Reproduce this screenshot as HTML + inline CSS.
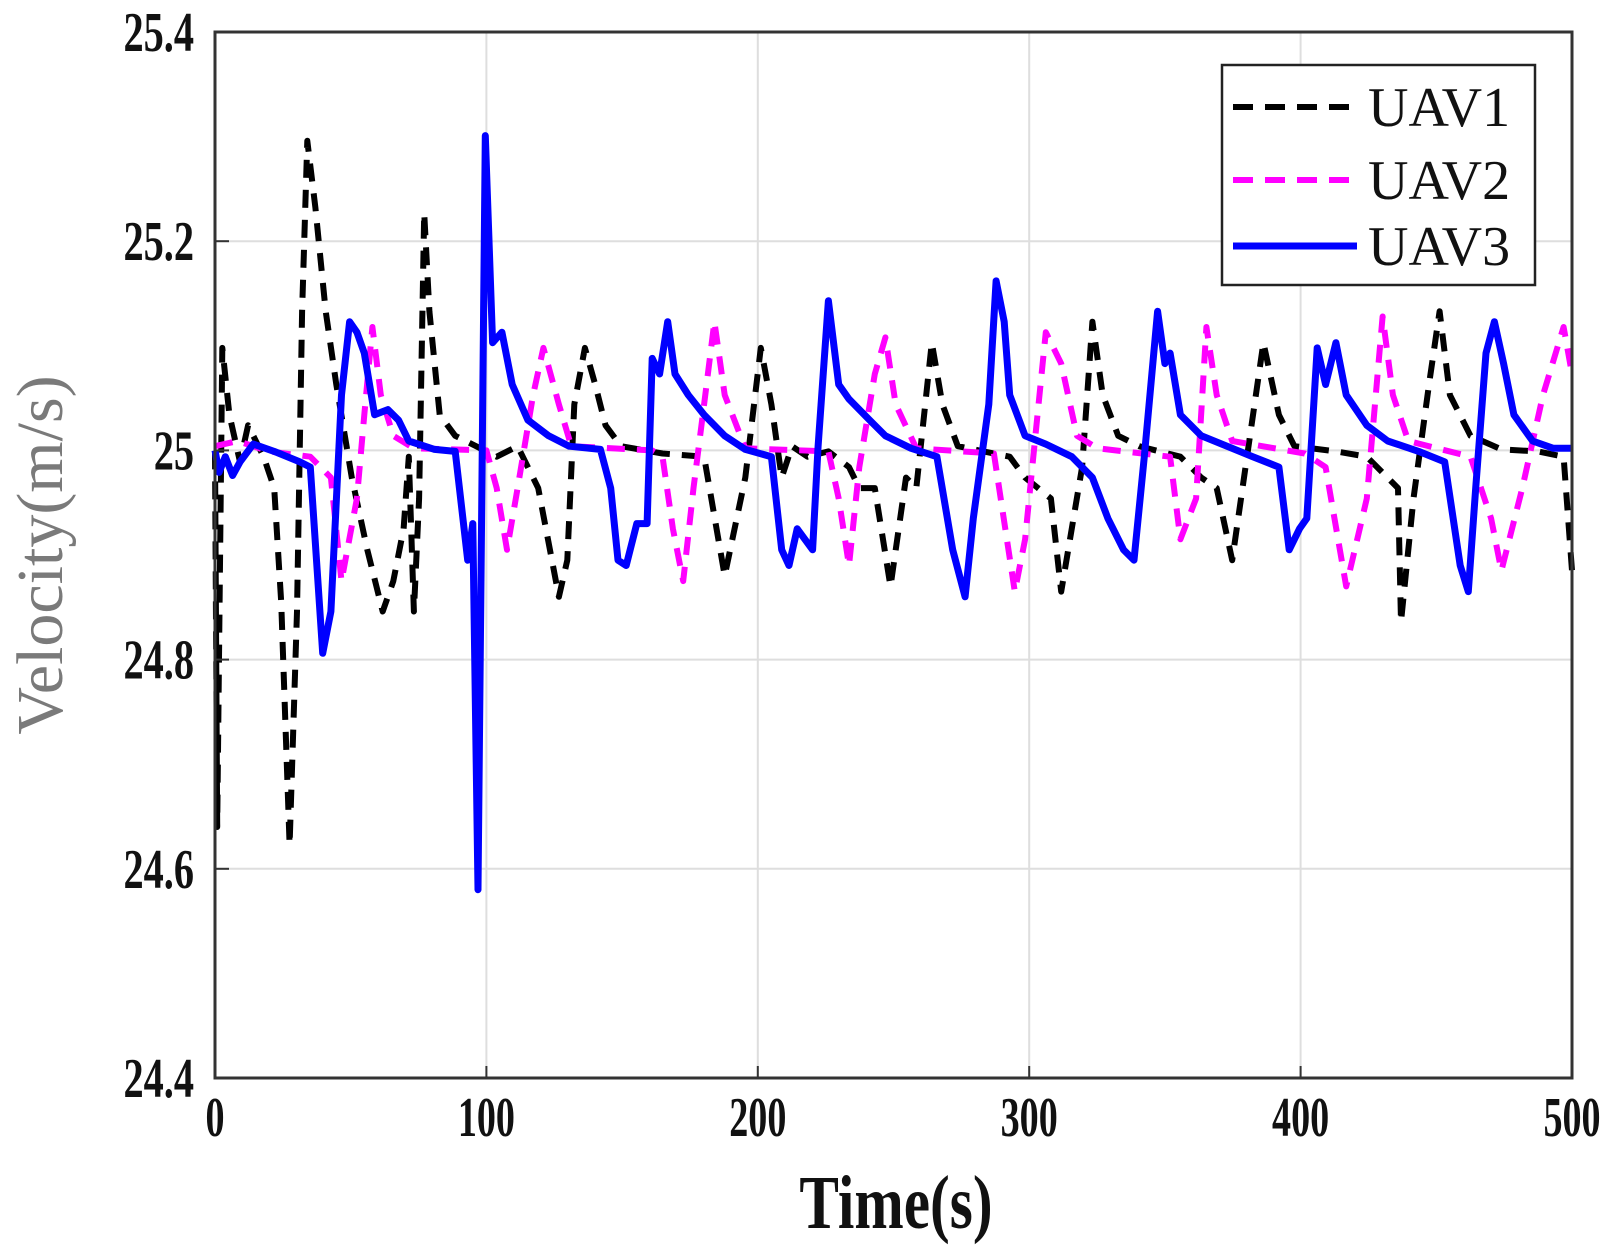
<!DOCTYPE html>
<html><head><meta charset="utf-8"><style>
html,body{margin:0;padding:0;background:#fff;}
svg{display:block;}
</style></head><body>
<svg id="chart" width="1624" height="1253" xmlns="http://www.w3.org/2000/svg">
<g id="grid"></g>
<g id="series"></g>
<rect x="215" y="32" width="1357" height="1046" fill="none" stroke="#333" stroke-width="3"/>
<g id="ticks"></g>
<text transform="translate(62,555) rotate(-90)" text-anchor="middle" font-family="Liberation Serif, serif" font-size="66" fill="#7a7a7a">Velocity(m/s)</text>
<text transform="translate(896,1228) scale(0.78,1)" text-anchor="middle" font-family="Liberation Serif, serif" font-weight="bold" font-size="76" fill="#111">Time(s)</text>
<g>
<rect x="1222" y="65" width="313" height="220" fill="#fff" stroke="#222" stroke-width="2.5"/>
<g><line x1="1233" y1="107" x2="1357" y2="107" stroke="#000" stroke-width="6" stroke-dasharray="20,12"/><text x="1368" y="126" font-family="Liberation Serif, serif" font-size="56" fill="#111">UAV1</text></g>
<g><line x1="1233" y1="180" x2="1357" y2="180" stroke="#ff00ff" stroke-width="6" stroke-dasharray="20,12"/><text x="1368" y="199" font-family="Liberation Serif, serif" font-size="56" fill="#111">UAV2</text></g>
<g><line x1="1233" y1="246" x2="1357" y2="246" stroke="#0000ff" stroke-width="7"/><text x="1368" y="265" font-family="Liberation Serif, serif" font-size="56" fill="#111">UAV3</text></g>
</g>
</svg>
<script>
const xTicks=[0,100,200,300,400,500];
const yTicks=[24.4,24.6,24.8,25,25.2,25.4];
const yTickLabels=["24.4","24.6","24.8","25","25.2","25.4"];
const uav1T=[0,0.8,2.7,5.3,9.2,12.2,17.9,21.8,24.4,27.5,30.2,32.1,34.0,37.0,40.8,44.7,50.4,56.1,61.8,65.7,69.5,71.4,73.3,75.2,77.1,79.0,82.8,88.5,96.2,103.8,111.5,119.1,126.7,129.8,132.4,136.3,140.1,143.9,149.6,164.9,180.2,187.8,195.4,201.1,205.0,208.8,212.6,218.3,226.0,233.6,237.4,243.1,248.9,254.6,258.4,264.1,268.0,273.7,283.2,292.8,298.5,308.0,311.8,319.5,323.3,327.1,332.8,340.5,355.7,363.4,369.1,374.8,378.6,386.3,392.0,397.7,413.0,424.4,435.9,437.0,441.6,447.3,451.2,455.0,462.6,474.0,487.4,496.9,500];
const uav1V=[24.999,24.64,25.098,25.034,24.989,25.024,24.994,24.964,24.855,24.623,24.846,25.133,25.296,25.232,25.133,25.063,24.974,24.905,24.846,24.875,24.925,24.994,24.846,24.954,25.227,25.133,25.034,25.014,25.004,24.994,25.004,24.964,24.860,24.895,25.044,25.098,25.063,25.024,25.004,24.997,24.994,24.880,24.974,25.098,25.044,24.974,25.004,24.994,24.999,24.984,24.964,24.964,24.870,24.974,24.964,25.103,25.044,25.004,24.999,24.994,24.974,24.954,24.865,24.984,25.123,25.053,25.014,25.004,24.994,24.974,24.964,24.895,24.964,25.103,25.034,25.004,24.999,24.994,24.964,24.836,24.954,25.063,25.133,25.053,25.014,25.001,24.999,24.994,24.885];
const uav2T=[0,8.4,19.8,35.1,42.7,46.6,52.3,55.0,58.0,61.1,65.7,73.3,100.0,103.8,107.6,111.5,117.2,121.0,126.7,131.3,161.1,164.9,168.7,172.5,176.3,180.2,184.0,187.8,195.4,226.0,229.8,233.6,237.4,243.1,247.0,250.8,258.4,287.0,294.7,298.5,302.3,306.1,311.8,317.6,325.2,351.9,355.7,361.5,365.3,369.1,374.8,401.5,409.2,416.8,424.4,430.2,434.0,439.7,462.6,470.2,474.0,481.7,489.3,496.9,500];
const uav2V=[25.004,25.009,24.999,24.994,24.974,24.875,24.954,25.034,25.118,25.053,25.014,25.002,25.000,24.964,24.905,24.964,25.053,25.098,25.044,25.004,25.000,24.994,24.925,24.875,24.964,25.044,25.123,25.053,25.002,24.999,24.954,24.890,24.984,25.073,25.108,25.044,25.002,24.997,24.865,24.915,25.014,25.113,25.083,25.014,25.002,24.994,24.915,24.954,25.118,25.053,25.009,24.997,24.984,24.870,24.954,25.128,25.053,25.009,24.994,24.935,24.885,24.964,25.053,25.118,25.073];
const uav3T=[0,1.5,3.8,6.5,9.2,14.1,21.8,31.3,35.1,39.7,42.7,46.6,49.6,52.3,55.0,58.8,63.7,67.6,71.4,80.9,88.5,93.1,95.0,96.9,99.6,102.3,105.7,109.5,115.3,122.9,130.5,142.0,145.8,148.5,151.5,155.4,159.2,161.1,163.8,166.8,169.5,174.4,180.2,187.8,195.4,205.0,208.8,211.5,214.5,220.2,222.2,226.0,229.8,233.6,241.2,247.0,256.5,266.0,271.8,276.4,279.4,285.1,287.8,290.8,292.8,298.5,306.1,315.7,323.3,329.0,334.8,338.6,342.4,347.3,350.0,351.9,355.7,363.4,372.9,382.4,392.0,395.8,399.6,402.3,406.1,409.2,413.0,416.8,424.4,432.1,443.5,453.1,458.8,461.8,464.5,468.3,471.4,474.8,478.6,485.5,493.1,500];
const uav3V=[25.000,24.979,24.994,24.976,24.989,25.006,24.999,24.989,24.984,24.806,24.846,25.053,25.123,25.113,25.093,25.034,25.039,25.029,25.009,25.001,24.999,24.895,24.930,24.580,25.301,25.103,25.113,25.063,25.029,25.014,25.004,25.001,24.964,24.895,24.890,24.930,24.930,25.088,25.073,25.123,25.073,25.053,25.034,25.014,25.001,24.994,24.905,24.890,24.925,24.905,25.004,25.143,25.063,25.049,25.029,25.014,25.002,24.994,24.905,24.860,24.935,25.044,25.162,25.123,25.053,25.014,25.006,24.994,24.974,24.935,24.905,24.895,24.994,25.133,25.083,25.093,25.034,25.014,25.004,24.994,24.984,24.905,24.925,24.935,25.098,25.063,25.103,25.053,25.024,25.009,24.999,24.989,24.890,24.865,24.964,25.093,25.123,25.083,25.034,25.009,25.002,25.002];

const X0=215,X1=1572,Y0=1078,Y1=32,T0=0,T1=500,V0=24.4,V1=25.4;
function xs(t){return X0+(t-T0)/(T1-T0)*(X1-X0);}
function ys(v){return Y0-(v-V0)/(V1-V0)*(Y0-Y1);}
const NS="http://www.w3.org/2000/svg";
const grid=document.getElementById('grid'),ticks=document.getElementById('ticks'),ser=document.getElementById('series');
function mk(tag,attrs,parent){const e=document.createElementNS(NS,tag);for(const k in attrs)e.setAttribute(k,attrs[k]);parent.appendChild(e);return e;}
xTicks.forEach((t,i)=>{
  const x=xs(t);
  if(i>0&&i<xTicks.length-1){
    const g=mk('line',{x1:x,y1:Y1,x2:x,y2:Y0,stroke:'#dedede','stroke-width':2},grid);
    
    
    const tk=mk('line',{x1:x,y1:Y0,x2:x,y2:Y0-12,stroke:'#333','stroke-width':2},ticks);
    
    
  }
  const l=mk('text',{x:0,y:0,transform:`translate(${x},${Y0+58}) scale(0.68,1)`,'text-anchor':'middle','font-family':'Liberation Serif, serif','font-weight':'bold','font-size':56,fill:'#111'},ticks);
  l.textContent=String(t);
  
  
});
yTicks.forEach((v,i)=>{
  const y=ys(v);
  if(i>0&&i<yTicks.length-1){
    const g=mk('line',{x1:X0,y1:y,x2:X1,y2:y,stroke:'#dedede','stroke-width':2},grid);
    
    
    const tk=mk('line',{x1:X0,y1:y,x2:X0+14,y2:y,stroke:'#333','stroke-width':2},ticks);
    
    
  }
  const l=mk('text',{x:0,y:0,transform:`translate(194,${y+19}) scale(0.72,1)`,'text-anchor':'end','font-family':'Liberation Serif, serif','font-weight':'bold','font-size':56,fill:'#111'},ticks);
  l.textContent=yTickLabels[i];
  
  
});
function line(T,V,color,w,dash,name){
  const d=T.map((t,i)=>(i?'L':'M')+xs(t).toFixed(1)+','+ys(V[i]).toFixed(1)).join(' ');
  const a={d:d,fill:'none',stroke:color,'stroke-width':w,'stroke-linejoin':'round'};
  if(dash)a['stroke-dasharray']=dash;
  const p=mk('path',a,ser);
  
  
}
line(uav1T,uav1V,'#000',6,'18,12','uav1-line');
line(uav2T,uav2V,'#ff00ff',6,'18,12','uav2-line');
line(uav3T,uav3V,'#0000ff',7,null,'uav3-line');
</script>
</body></html>
